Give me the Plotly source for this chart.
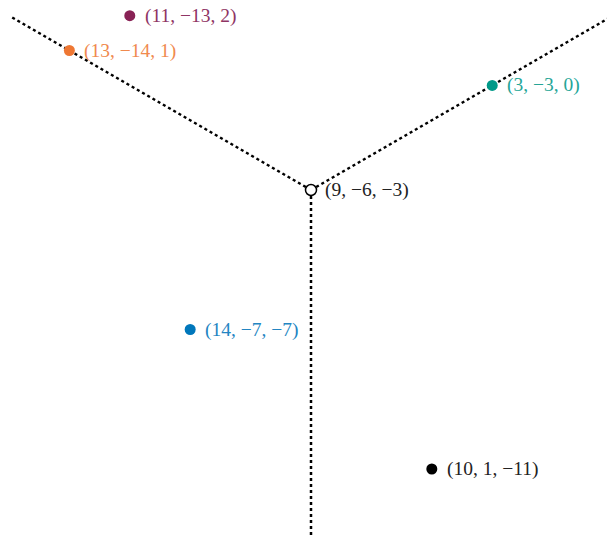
import math
import plotly.graph_objects as go

# Tropical points (a, b, c) in projective coordinates
point_labels = ["(11, −13, 2)", "(13, −14, 1)", "(3, −3, 0)", "(14, −7, −7)", "(10, 1, −11)"]
point_a = [11, 13, 3, 14, 10]
point_b = [-13, -14, -3, -7, 1]
point_c = [2, 1, 0, -7, -11]
point_colors = ["#882255", "#EE7733", "#009988", "#0077BB", "#000000"]
label_colors = ["#8f3564", "#f08a4e", "#26a597", "#2385c2", "#222222"]

# Apex of the tropical line
apex = (9, -6, -3)
apex_label = "(9, −6, −3)"
ray_length = 14.9
ray_dirs = [(0, -1, 0), (-1, 0, 0), (0, 0, -1)]


def proj(a, b, c):
    u = b - a
    v = c - a
    return math.sqrt(3) / 2 * u, v - u / 2


px, py = zip(*[proj(a, b, c) for a, b, c in zip(point_a, point_b, point_c)])
ax, ay = proj(*apex)

lx, ly = [], []
for d in ray_dirs:
    ex, ey = proj(apex[0] + ray_length * d[0], apex[1] + ray_length * d[1], apex[2] + ray_length * d[2])
    lx += [ax, ex, None]
    ly += [ay, ey, None]

font_family = "Liberation Serif, DejaVu Serif, serif"
fsize = 19.5

fig = go.Figure()
fig.add_trace(go.Scatter(x=lx, y=ly, mode="lines",
                         line=dict(color="black", width=2.5, dash="dot"),
                         hoverinfo="skip", showlegend=False))
fig.add_trace(go.Scatter(x=list(px), y=list(py), mode="markers",
                         marker=dict(color=point_colors, size=11),
                         showlegend=False))
fig.add_trace(go.Scatter(x=[ax], y=[ay], mode="markers",
                         marker=dict(color="white", size=11, line=dict(color="black", width=1.5)),
                         showlegend=False))

for x, y, t, c in zip(px, py, point_labels, label_colors):
    fig.add_annotation(x=x, y=y, text=t, showarrow=False, xanchor="left", yanchor="middle",
                       xshift=13, font=dict(family=font_family, size=fsize, color=c))
fig.add_annotation(x=ax, y=ay, text=apex_label, showarrow=False, xanchor="left", yanchor="middle",
                   xshift=12, font=dict(family=font_family, size=fsize, color="#222222"))

k = 23.25
xl = ax - 311 / k
yt = ay + 190 / k
fig.update_layout(
    width=607, height=538,
    margin=dict(l=0, r=0, t=0, b=0),
    paper_bgcolor="white", plot_bgcolor="white",
    xaxis=dict(range=[xl, xl + 607 / k], visible=False, fixedrange=True),
    yaxis=dict(range=[yt - 538 / k, yt], visible=False, fixedrange=True),
)
fig.write_html("out.html", config={"displayModeBar": False},
               post_script="document.body.style.margin='0';")
